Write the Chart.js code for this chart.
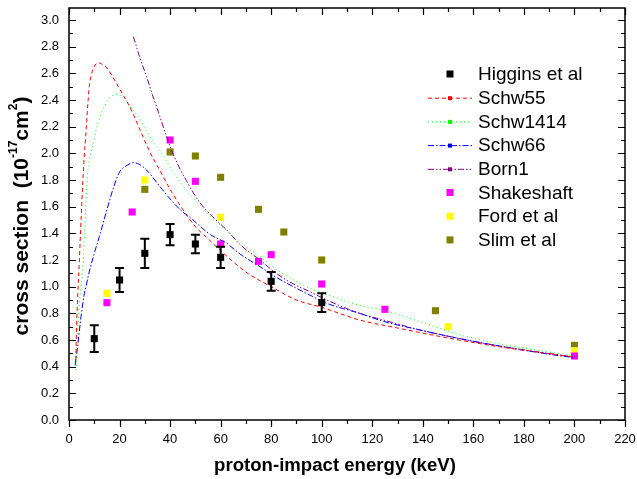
<!DOCTYPE html>
<html><head><meta charset="utf-8">
<script src="https://cdn.jsdelivr.net/npm/chart.js@4.4.1/dist/chart.umd.min.js"></script>
<style>html,body{margin:0;padding:0;background:#fff;}</style>
</head><body>
<canvas id="c" width="637" height="479" style="width:637px;height:479px;display:block"></canvas>
<script>
// ---- data ----
const energyHiggins = [10, 20, 30, 40, 50, 60, 80, 100];
const sigmaHiggins  = [0.61, 1.05, 1.25, 1.39, 1.32, 1.22, 1.04, 0.88];
const errHiggins    = [0.10, 0.09, 0.11, 0.08, 0.07, 0.08, 0.07, 0.07];

const energyShake = [15, 25, 40, 50, 60, 75, 80, 100, 125, 200];
const sigmaShake  = [0.88, 1.56, 2.10, 1.79, 1.32, 1.19, 1.24, 1.02, 0.83, 0.48];

const energyFord = [15, 30, 60, 150, 200];
const sigmaFord  = [0.95, 1.80, 1.52, 0.70, 0.52];

const energySlim = [30, 40, 50, 60, 75, 85, 100, 145, 200];
const sigmaSlim  = [1.73, 2.01, 1.98, 1.82, 1.58, 1.41, 1.20, 0.82, 0.56];

const energySchw55 = [2.7,3,3.5,4,4.5,5,5.5,6,6.5,7,7.5,8,9,10,11.5,13,15,18,21,24,28,32,36,40,45,50,55,60,70,80,90,100,115,130,150,170,185,200];
const sigmaSchw55  = [0.45,0.7,0.95,1.15,1.38,1.6,1.8,1.97,2.1,2.24,2.38,2.5,2.6,2.65,2.68,2.67,2.64,2.55,2.45,2.35,2.18,2.01,1.87,1.73,1.58,1.45,1.36,1.27,1.11,1.00,0.90,0.845,0.75,0.69,0.615,0.55,0.51,0.47];

const energySchw1414 = [2.8,3.4,4.1,4.75,5.4,6.1,6.7,7.4,8,9.4,10.7,12,14,15.3,17,18.6,20,22.2,24.5,27.4,30,32,36.7,41.9,46.6,51.8,55,62.4,70,75.6,82,88.8,95,102,115,124.4,140,157.4,175,197,200];
const sigmaSchw1414  = [0.375,0.65,0.875,1.0,1.125,1.375,1.625,1.85,1.95,2.05,2.175,2.26,2.35,2.4,2.43,2.445,2.44,2.40,2.34,2.275,2.19,2.125,2.0,1.84,1.72,1.61,1.545,1.42,1.30,1.225,1.13,1.05,0.99,0.94,0.86,0.825,0.73,0.625,0.555,0.49,0.48];

const energySchw66 = [2.4,3.4,4.75,6.1,6.7,8,10,12,14.6,17.3,20,23,25.5,28,30.7,36,41.3,45,48.5,52,56,62.4,68,75.6,82,88.8,95,102,115,124.4,140,157.4,175,197,200];
const sigmaSchw66  = [0.41,0.55,0.775,0.95,1.0,1.11,1.25,1.375,1.55,1.725,1.86,1.91,1.93,1.915,1.875,1.75,1.63,1.56,1.51,1.45,1.39,1.325,1.24,1.15,1.07,1.0,0.94,0.875,0.80,0.74,0.67,0.60,0.54,0.475,0.47];

const energyBorn1 = [25.5,28,30.7,33,36,38.5,41.3,44,46.6,49,51.8,56.5,62.4,68,75.6,82,88.8,95,102,115,124.4,140,157.4,175,197,200];
const sigmaBorn1  = [2.875,2.72,2.575,2.44,2.275,2.13,1.99,1.88,1.79,1.71,1.63,1.53,1.425,1.31,1.2,1.1,1.02,0.965,0.90,0.80,0.75,0.67,0.60,0.54,0.48,0.47];

const xTickValues = [0,20,40,60,80,100,120,140,160,180,200,220];
const yTickValues = [0,0.2,0.4,0.6,0.8,1.0,1.2,1.4,1.6,1.8,2.0,2.2,2.4,2.6,2.8,3.0];

const legendNames = ['Higgins et al','Schw55','Schw1414','Schw66','Born1','Shakeshaft','Ford et al','Slim et al'];

const FONT = '"Liberation Sans", Arial, sans-serif';

function pts(xs, ys) { return xs.map((x, i) => ({ x: x, y: ys[i] })); }

function curve(label, xs, ys, color, dash) {
  return { type: 'line', label, data: pts(xs, ys), borderColor: color, borderWidth: 1,
           borderDash: dash, pointRadius: 0, fill: false, cubicInterpolationMode: 'monotone',
           _legendKind: 'line', _dash: dash };
}
function marks(label, xs, ys, color) {
  return { type: 'scatter', label, data: pts(xs, ys), backgroundColor: color, borderWidth: 0,
           pointStyle: 'rect', pointRadius: 5, _legendKind: 'mark' };
}

const datasets = [
  marks(legendNames[0], energyHiggins, sigmaHiggins, '#000000'),
  curve(legendNames[1], energySchw55, sigmaSchw55, '#ff0000', [4, 3]),
  curve(legendNames[2], energySchw1414, sigmaSchw1414, '#00ff00', [1, 3]),
  curve(legendNames[3], energySchw66, sigmaSchw66, '#0000ff', [6, 2, 1.5, 2]),
  curve(legendNames[4], energyBorn1, sigmaBorn1, '#800080', [6, 2, 1.5, 2, 1.5, 2]),
  marks(legendNames[5], energyShake, sigmaShake, '#ff00ff'),
  marks(legendNames[6], energyFord, sigmaFord, '#ffff00'),
  marks(legendNames[7], energySlim, sigmaSlim, '#808000')
];

const decor = {
  id: 'decor',
  afterDatasetsDraw(chart) {
    const ctx = chart.ctx, xs = chart.scales.x, ys = chart.scales.y;
    ctx.save();
    ctx.strokeStyle = '#000'; ctx.lineWidth = 2;
    energyHiggins.forEach((e, i) => {
      const px = xs.getPixelForValue(e);
      const top = ys.getPixelForValue(sigmaHiggins[i] + errHiggins[i]);
      const bot = ys.getPixelForValue(sigmaHiggins[i] - errHiggins[i]);
      ctx.beginPath();
      ctx.moveTo(px, top); ctx.lineTo(px, bot);
      ctx.moveTo(px - 4.5, top); ctx.lineTo(px + 4.5, top);
      ctx.moveTo(px - 4.5, bot); ctx.lineTo(px + 4.5, bot);
      ctx.stroke();
    });
    ctx.restore();
  },
  afterDraw(chart) {
    const ctx = chart.ctx, xs = chart.scales.x, ys = chart.scales.y, a = chart.chartArea;
    ctx.save();
    ctx.strokeStyle = '#000'; ctx.lineWidth = 1.5;
    ctx.strokeRect(a.left, a.top, a.right - a.left, a.bottom - a.top);
    ctx.lineWidth = 1.2;
    ctx.beginPath();
    for (let v = 0; v <= 220; v += 10) {
      const p = Math.round(xs.getPixelForValue(v)) + 0.5;
      const L = (v % 20 === 0) ? 7 : 4;
      ctx.moveTo(p, a.bottom); ctx.lineTo(p, a.bottom + L);
      ctx.moveTo(p, a.top); ctx.lineTo(p, a.top + L);
    }
    for (let k = 0; k <= 30; k++) {
      const v = k / 10;
      const p = Math.round(ys.getPixelForValue(v)) + 0.5;
      const L = (k % 2 === 0) ? 7 : 4;
      ctx.moveTo(a.left, p); ctx.lineTo(a.left + L, p);
      ctx.moveTo(a.right, p); ctx.lineTo(a.right - L, p);
    }
    ctx.stroke();

    ctx.fillStyle = '#000';
    ctx.font = 'bold 18.6px ' + FONT;
    ctx.textAlign = 'center'; ctx.textBaseline = 'middle';
    ctx.fillText('proton-impact energy (keV)', 335, 466);

    const parts = [
      { t: 'cross section  (10', s: false },
      { t: '-17', s: true },
      { t: 'cm', s: false },
      { t: '2', s: true },
      { t: ')', s: false }
    ];
    const mainF = 'bold 21px ' + FONT, supF = 'bold 12px ' + FONT;
    let total = 0;
    parts.forEach(p => { ctx.font = p.s ? supF : mainF; p.w = ctx.measureText(p.t).width; total += p.w; });
    ctx.translate(22, 216);
    ctx.rotate(-Math.PI / 2);
    ctx.textAlign = 'left'; ctx.textBaseline = 'middle';
    let cx = -total / 2;
    parts.forEach(p => {
      ctx.font = p.s ? supF : mainF;
      ctx.fillText(p.t, cx, p.s ? -8 : 0);
      cx += p.w;
    });
    ctx.restore();

    ctx.save();
    const lx = 450, tx = 478, y0 = 74, dy = 23.7;
    chart.data.datasets.forEach((ds, i) => {
      const y = y0 + i * dy;
      if (ds._legendKind === 'line') {
        ctx.strokeStyle = ds.borderColor; ctx.lineWidth = 1;
        ctx.setLineDash(ds._dash);
        ctx.beginPath(); ctx.moveTo(428, y + 0.5); ctx.lineTo(472, y + 0.5); ctx.stroke();
        ctx.setLineDash([]);
        ctx.fillStyle = ds.borderColor;
        ctx.fillRect(lx - 2, y - 1.5, 4, 4);
      } else {
        ctx.fillStyle = ds.backgroundColor;
        ctx.fillRect(lx - 3.5, y - 3.5, 7, 7);
      }
      ctx.fillStyle = '#000';
      ctx.font = '19px ' + FONT;
      ctx.textAlign = 'left'; ctx.textBaseline = 'middle';
      ctx.fillText(ds.label, tx, y + 1);
    });
    ctx.restore();
  }
};

new Chart(document.getElementById('c'), {
  data: { datasets },
  options: {
    responsive: false,
    animation: false,
    layout: { padding: { top: 8, right: 12, left: 0, bottom: 0 } },
    plugins: { legend: { display: false }, tooltip: { enabled: false } },
    scales: {
      x: {
        type: 'linear', min: 0, max: 220,
        afterBuildTicks: s => { s.ticks = xTickValues.map(v => ({ value: v })); },
        afterFit: s => { s.height = 59; s.paddingLeft = 0; s.paddingRight = 0; s.paddingTop = 0; s.paddingBottom = 0; },
        ticks: { color: '#000', font: { family: FONT, size: 13 }, padding: 12, maxRotation: 0,
                 callback: v => String(v) },
        grid: { display: false, drawTicks: false },
        border: { display: false }
      },
      y: {
        type: 'linear', min: 0, max: 3.09,
        afterBuildTicks: s => { s.ticks = yTickValues.map(v => ({ value: v })); },
        afterFit: s => { s.width = 69; s.paddingLeft = 0; s.paddingRight = 0; s.paddingTop = 0; s.paddingBottom = 0; },
        ticks: { color: '#000', font: { family: FONT, size: 13 }, padding: 10,
                 callback: v => Number(v).toFixed(1) },
        grid: { display: false, drawTicks: false },
        border: { display: false }
      }
    }
  },
  plugins: [decor]
});
</script>
</body></html>
